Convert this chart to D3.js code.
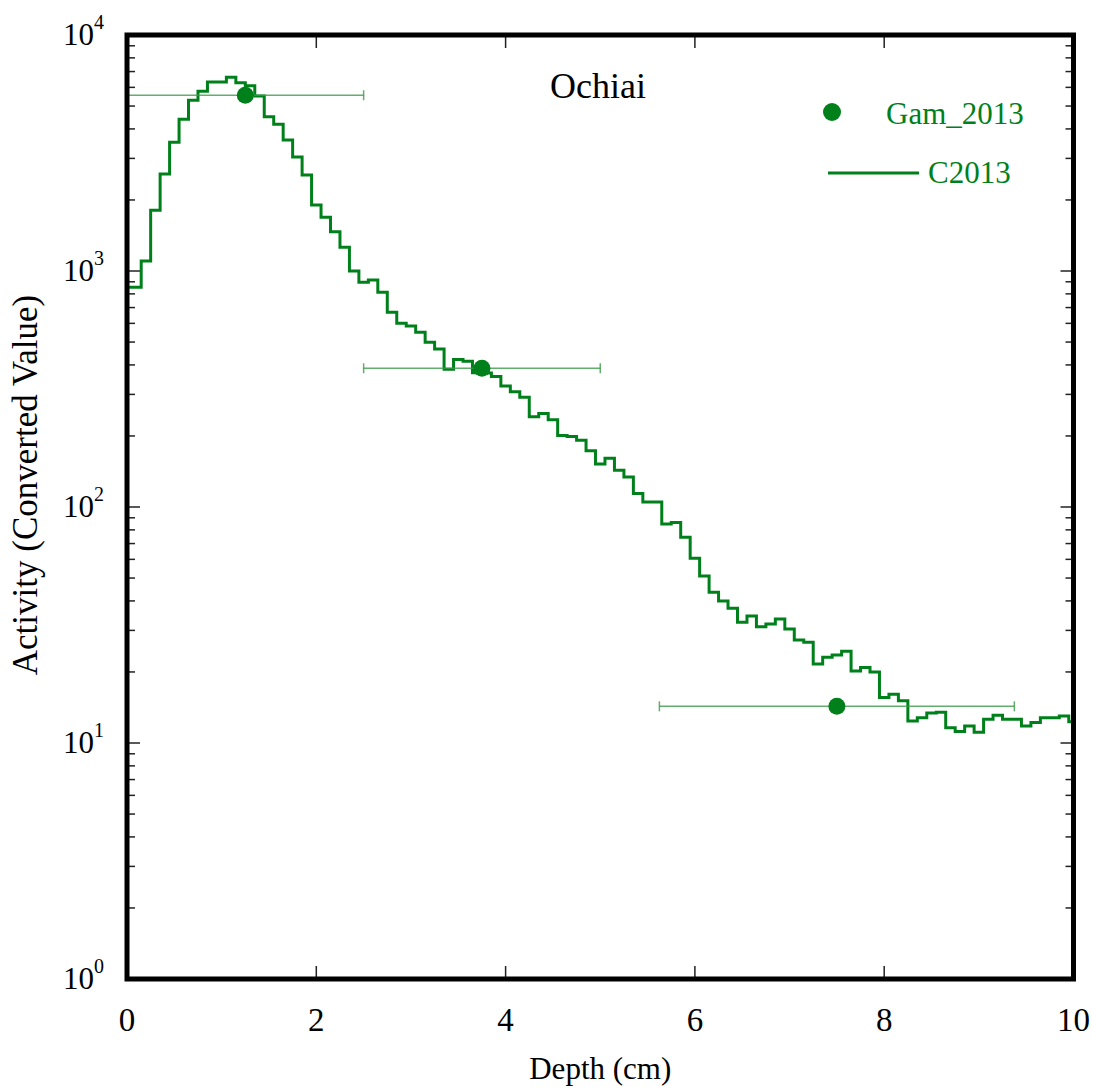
<!DOCTYPE html>
<html>
<head>
<meta charset="utf-8">
<script src="https://cdn.jsdelivr.net/npm/d3@7"></script>
<style>
  html, body { margin: 0; padding: 0; background: #fff; }
  svg { display: block; }
  text { font-family: "Liberation Serif", "Times New Roman", serif; }
</style>
</head>
<body>
<svg id="chart" width="1093" height="1090"></svg>
<script>
// ---- Data ----
const title = "Ochiai";
const xLabel = "Depth (cm)";
const yLabel = "Activity (Converted Value)";
const xTickValues = [0, 2, 4, 6, 8, 10];
const yDecades = [0, 1, 2, 3, 4];

// C2013 step profile (depth in cm, activity)
const c2013Depth = [0.0,0.1,0.2,0.3,0.4,0.5,0.6,0.7,0.8,0.9,
  1.0,1.1,1.2,1.3,1.4,1.5,1.6,1.7,1.8,1.9,
  2.0,2.1,2.2,2.3,2.4,2.5,2.6,2.7,2.8,2.9,
  3.0,3.1,3.2,3.3,3.4,3.5,3.6,3.7,3.8,3.9,
  4.0,4.1,4.2,4.3,4.4,4.5,4.6,4.7,4.8,4.9,
  5.0,5.1,5.2,5.3,5.4,5.5,5.6,5.7,5.8,5.9,
  6.0,6.1,6.2,6.3,6.4,6.5,6.6,6.7,6.8,6.9,
  7.0,7.1,7.2,7.3,7.4,7.5,7.6,7.7,7.8,7.9,
  8.0,8.1,8.2,8.3,8.4,8.5,8.6,8.7,8.8,8.9,
  9.0,9.1,9.2,9.3,9.4,9.5,9.6,9.7,9.8,9.9,10.0];
const c2013Value = [853,853,1102,1808,2577,3508,4394,5290,5770,6320,
  6320,6620,6280,6100,5520,4508,4186,3590,3040,2552,
  1905,1688,1468,1260,1000,896,916,812,668,600,
  585,550,499,467,383,422,415,371,370,357,
  326,308,292,241,249,234,201,199,192,173,
  152,161,143,134,114,105,105,84.7,85.9,74.5,
  60.7,51.0,43.5,40.0,37.2,32.5,34.5,31.1,31.9,33.5,
  30.4,27.3,26.7,21.6,23.1,23.6,24.5,20.2,20.9,20.0,
  15.6,16.1,15.1,12.4,12.8,13.4,13.5,11.6,11.2,11.8,
  11.1,12.6,13.1,12.6,12.6,11.8,12.2,12.8,12.8,13.0,12.3];

// Gam_2013 points with horizontal extent
const gamDepth = [1.25, 3.75, 7.5];
const gamValue = [5550, 387, 14.3];
const gamLow = [0, 2.5, 5.625];
const gamHigh = [2.5, 5.0, 9.375];

const seriesNames = ["Gam_2013", "C2013"];

// ---- Layout ----
const green = "#00801a";
const pL = 127, pR = 1073.5, pT = 35, pB = 979;

const svg = d3.select("#chart");
const x = d3.scaleLinear().domain([0, 10]).range([pL, pR]);
const y = d3.scaleLog().domain([1, 1e4]).range([pB, pT]);

svg.append("defs").append("clipPath").attr("id", "clip")
  .append("rect").attr("x", pL).attr("y", pT)
  .attr("width", pR - pL).attr("height", pB - pT);

// ticks
const tickG = svg.append("g").attr("stroke", "#222").attr("stroke-width", 1.5);
xTickValues.slice(1, -1).forEach(v => {
  tickG.append("line").attr("x1", x(v)).attr("x2", x(v)).attr("y1", pB).attr("y2", pB - 13);
  tickG.append("line").attr("x1", x(v)).attr("x2", x(v)).attr("y1", pT).attr("y2", pT + 13);
});
const minorY = [];
for (let d = 0; d < 4; d++) for (let m = 2; m <= 9; m++) minorY.push(m * Math.pow(10, d));
minorY.forEach(v => {
  tickG.append("line").attr("x1", pL).attr("x2", pL + 8).attr("y1", y(v)).attr("y2", y(v));
  tickG.append("line").attr("x1", pR).attr("x2", pR - 8).attr("y1", y(v)).attr("y2", y(v));
});
yDecades.slice(1, -1).forEach(e => {
  const v = Math.pow(10, e);
  tickG.append("line").attr("x1", pL).attr("x2", pL + 13).attr("y1", y(v)).attr("y2", y(v));
  tickG.append("line").attr("x1", pR).attr("x2", pR - 13).attr("y1", y(v)).attr("y2", y(v));
});

// tick labels
svg.append("g").selectAll("text").data(xTickValues).join("text")
  .attr("x", d => x(d)).attr("y", 1031)
  .attr("text-anchor", "middle").attr("font-size", 33).attr("fill", "#000")
  .text(d => d);

const yl = svg.append("g").selectAll("text").data(yDecades).join("text")
  .attr("x", 104).attr("y", d => y(Math.pow(10, d)) + 10)
  .attr("text-anchor", "end").attr("font-size", 31).attr("fill", "#000");
yl.append("tspan").text("10");
yl.append("tspan").attr("font-size", 20).attr("dy", -16).text(d => d);

// axis labels
svg.append("text").attr("x", (pL + pR) / 2).attr("y", 1079)
  .attr("text-anchor", "middle").attr("font-size", 31).text(xLabel);
svg.append("text").attr("transform", `translate(37,${485}) rotate(-90)`)
  .attr("text-anchor", "middle").attr("font-size", 35).text(yLabel);

// C2013 step line
const plot = svg.append("g").attr("clip-path", "url(#clip)");
const lineData = c2013Depth.map((d, i) => [d, c2013Value[i]]);
plot.append("path").datum(lineData)
  .attr("fill", "none").attr("stroke", green).attr("stroke-width", 3)
  .attr("d", d3.line().x(d => x(d[0])).y(d => y(d[1])).curve(d3.curveStep));

// Gam_2013 error bars + points
const gam = gamDepth.map((d, i) => ({ d, v: gamValue[i], lo: gamLow[i], hi: gamHigh[i] }));
const eb = plot.append("g").attr("stroke", "#3a9a48").attr("stroke-opacity", 0.8).attr("stroke-width", 1.5);
gam.forEach(p => {
  eb.append("line").attr("x1", x(p.lo)).attr("x2", x(p.hi)).attr("y1", y(p.v)).attr("y2", y(p.v));
  eb.append("line").attr("x1", x(p.lo)).attr("x2", x(p.lo)).attr("y1", y(p.v) - 5).attr("y2", y(p.v) + 5);
  eb.append("line").attr("x1", x(p.hi)).attr("x2", x(p.hi)).attr("y1", y(p.v) - 5).attr("y2", y(p.v) + 5);
});
plot.append("g").selectAll("circle").data(gam).join("circle")
  .attr("cx", p => x(p.d)).attr("cy", p => y(p.v)).attr("r", 8.5).attr("fill", green);

// frame
svg.append("rect").attr("x", pL).attr("y", pT)
  .attr("width", pR - pL).attr("height", pB - pT)
  .attr("fill", "none").attr("stroke", "#000").attr("stroke-width", 5);

// title
svg.append("text").attr("x", 598).attr("y", 98).attr("text-anchor", "middle")
  .attr("font-size", 36).attr("fill", "#000").text(title);

// legend
const lg = svg.append("g");
lg.append("circle").attr("cx", 832).attr("cy", 112).attr("r", 9).attr("fill", green);
lg.append("text").attr("x", 886).attr("y", 124).attr("font-size", 31).attr("fill", green).text(seriesNames[0]);
lg.append("line").attr("x1", 828).attr("x2", 919).attr("y1", 173).attr("y2", 173)
  .attr("stroke", green).attr("stroke-width", 3);
lg.append("text").attr("x", 928).attr("y", 183).attr("font-size", 31).attr("fill", green).text(seriesNames[1]);
</script>
</body>
</html>
